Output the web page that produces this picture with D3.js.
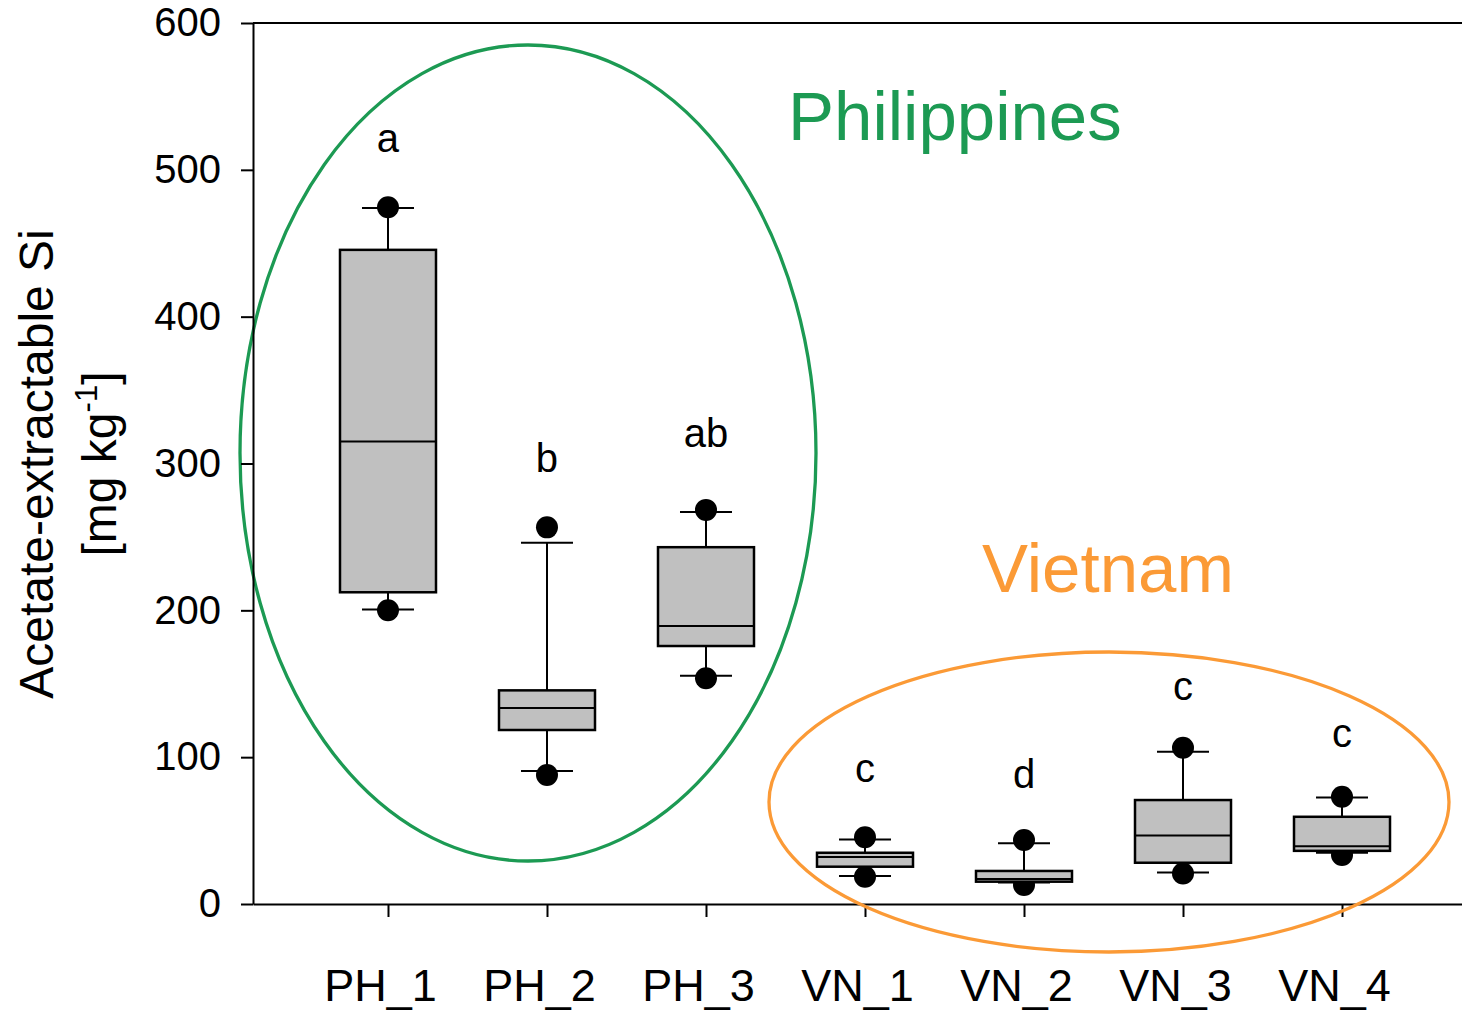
<!DOCTYPE html>
<html><head><meta charset="utf-8">
<script src="https://cdn.jsdelivr.net/npm/d3@7"></script>
<style>body{margin:0;background:#fff}svg{display:block}text{font-family:"Liberation Sans",Arial,sans-serif;fill:#000}</style>
</head><body>
<script>
const categories = ["PH_1","PH_2","PH_3","VN_1","VN_2","VN_3","VN_4"];
const whiskerHigh = [474, 246, 267, 44, 41.3, 103.7, 72.6];
const q3          = [445.5, 145.5, 243, 34.9, 22.5, 70.8, 59.4];
const median      = [315, 133.5, 189.4, 32, 17, 46.7, 39.4];
const q1          = [212.3, 118.5, 175.7, 25.4, 15.2, 28.1, 36.2];
const whiskerLow  = [200.5, 90.6, 155.5, 19, 14.7, 21.5, 34.9];
const outlierHigh = [474.5, 256.5, 268.4, 45.4, 43.6, 106.4, 73];
const outlierLow  = [200, 87.9, 153.7, 18.6, 12.9, 20.8, 33.4];
const letters     = ["a","b","ab","c","d","c","c"];
const letterValue = [512, 294, 311, 83, 79, 139, 107];
const yTicks = [0,100,200,300,400,500,600];

const W = 1462, H = 1012;
const svg = d3.select("body").append("svg").attr("width", W).attr("height", H);

const y = d3.scaleLinear().domain([0,600]).range([904,23]);
const x = d3.scalePoint().domain(categories).range([253,1477]).padding(0.849);

// ellipses (annotations)
svg.append("ellipse").attr("cx",528).attr("cy",453).attr("rx",288).attr("ry",408)
  .attr("fill","none").attr("stroke","#1c9a53").attr("stroke-width",3.3);

// axes
const yAxis = svg.append("g").attr("transform","translate(253,0)")
  .call(d3.axisLeft(y).tickValues(yTicks).tickSize(12).tickSizeOuter(0).tickPadding(20));
yAxis.selectAll("path,line").attr("stroke","#000").attr("stroke-width",2);
yAxis.selectAll("text").attr("font-size",40).attr("font-family","Liberation Sans, Arial, sans-serif").attr("fill","#000");

const xAxis = svg.append("g").attr("transform","translate(0,904)")
  .call(d3.axisBottom(x).tickSize(13).tickSizeOuter(0).tickPadding(52));
xAxis.selectAll("path,line").attr("stroke","#000").attr("stroke-width",2);
xAxis.selectAll("text").attr("font-size",45).attr("font-family","Liberation Sans, Arial, sans-serif").attr("fill","#000")
  .attr("dx",-8);

svg.append("line").attr("x1",253).attr("x2",1477).attr("y1",y(600)).attr("y2",y(600))
  .attr("stroke","#000").attr("stroke-width",2);

// boxes
const data = categories.map((c,i)=>({c, wh:whiskerHigh[i], q3:q3[i], med:median[i], q1:q1[i], wl:whiskerLow[i], oh:outlierHigh[i], ol:outlierLow[i], lab:letters[i], lv:letterValue[i]}));
const boxW = 96, capW = 52, r = 11;
const g = svg.append("g").selectAll("g").data(data).join("g").attr("transform",d=>`translate(${x(d.c)},0)`);
g.append("circle").attr("cy",d=>y(d.oh)).attr("r",r).attr("fill","#000");
g.append("circle").attr("cy",d=>y(d.ol)).attr("r",r).attr("fill","#000");
g.append("line").attr("y1",d=>y(d.wh)).attr("y2",d=>y(d.q3)).attr("stroke","#000").attr("stroke-width",2);
g.append("line").attr("y1",d=>y(d.wl)).attr("y2",d=>y(d.q1)).attr("stroke","#000").attr("stroke-width",2);
g.append("line").attr("x1",-capW/2).attr("x2",capW/2).attr("y1",d=>y(d.wh)).attr("y2",d=>y(d.wh)).attr("stroke","#000").attr("stroke-width",2);
g.append("line").attr("x1",-capW/2).attr("x2",capW/2).attr("y1",d=>y(d.wl)).attr("y2",d=>y(d.wl)).attr("stroke","#000").attr("stroke-width",2);
g.append("rect").attr("x",-boxW/2).attr("width",boxW).attr("y",d=>y(d.q3)).attr("height",d=>y(d.q1)-y(d.q3))
  .attr("fill","#c0c0c0").attr("stroke","#000").attr("stroke-width",2.5);
g.append("line").attr("x1",-boxW/2).attr("x2",boxW/2).attr("y1",d=>y(d.med)).attr("y2",d=>y(d.med)).attr("stroke","#000").attr("stroke-width",2);
g.append("text").attr("y",d=>y(d.lv)).attr("text-anchor","middle").attr("font-size",40).text(d=>d.lab);

svg.append("ellipse").attr("cx",1109).attr("cy",802).attr("rx",340).attr("ry",150)
  .attr("fill","none").attr("stroke","#fb9a36").attr("stroke-width",3.3);

// region labels
svg.append("text").attr("x",788).attr("y",140).attr("font-size",69).style("fill","#1c9a53").text("Philippines");
svg.append("text").attr("x",982).attr("y",592).attr("font-size",69).style("fill","#fb9a36").text("Vietnam");

// y title
const yt = svg.append("text").attr("transform","translate(53,464) rotate(-90)").attr("text-anchor","middle").attr("font-size",48);
yt.append("tspan").attr("x",0).attr("y",0).text("Acetate-extractable Si");
yt.append("tspan").attr("x",0).attr("y",63).text("[mg kg");
yt.append("tspan").attr("font-size",31).attr("dy",-19).text("-1");
yt.append("tspan").attr("dy",19).text("]");
</script>
</body></html>
